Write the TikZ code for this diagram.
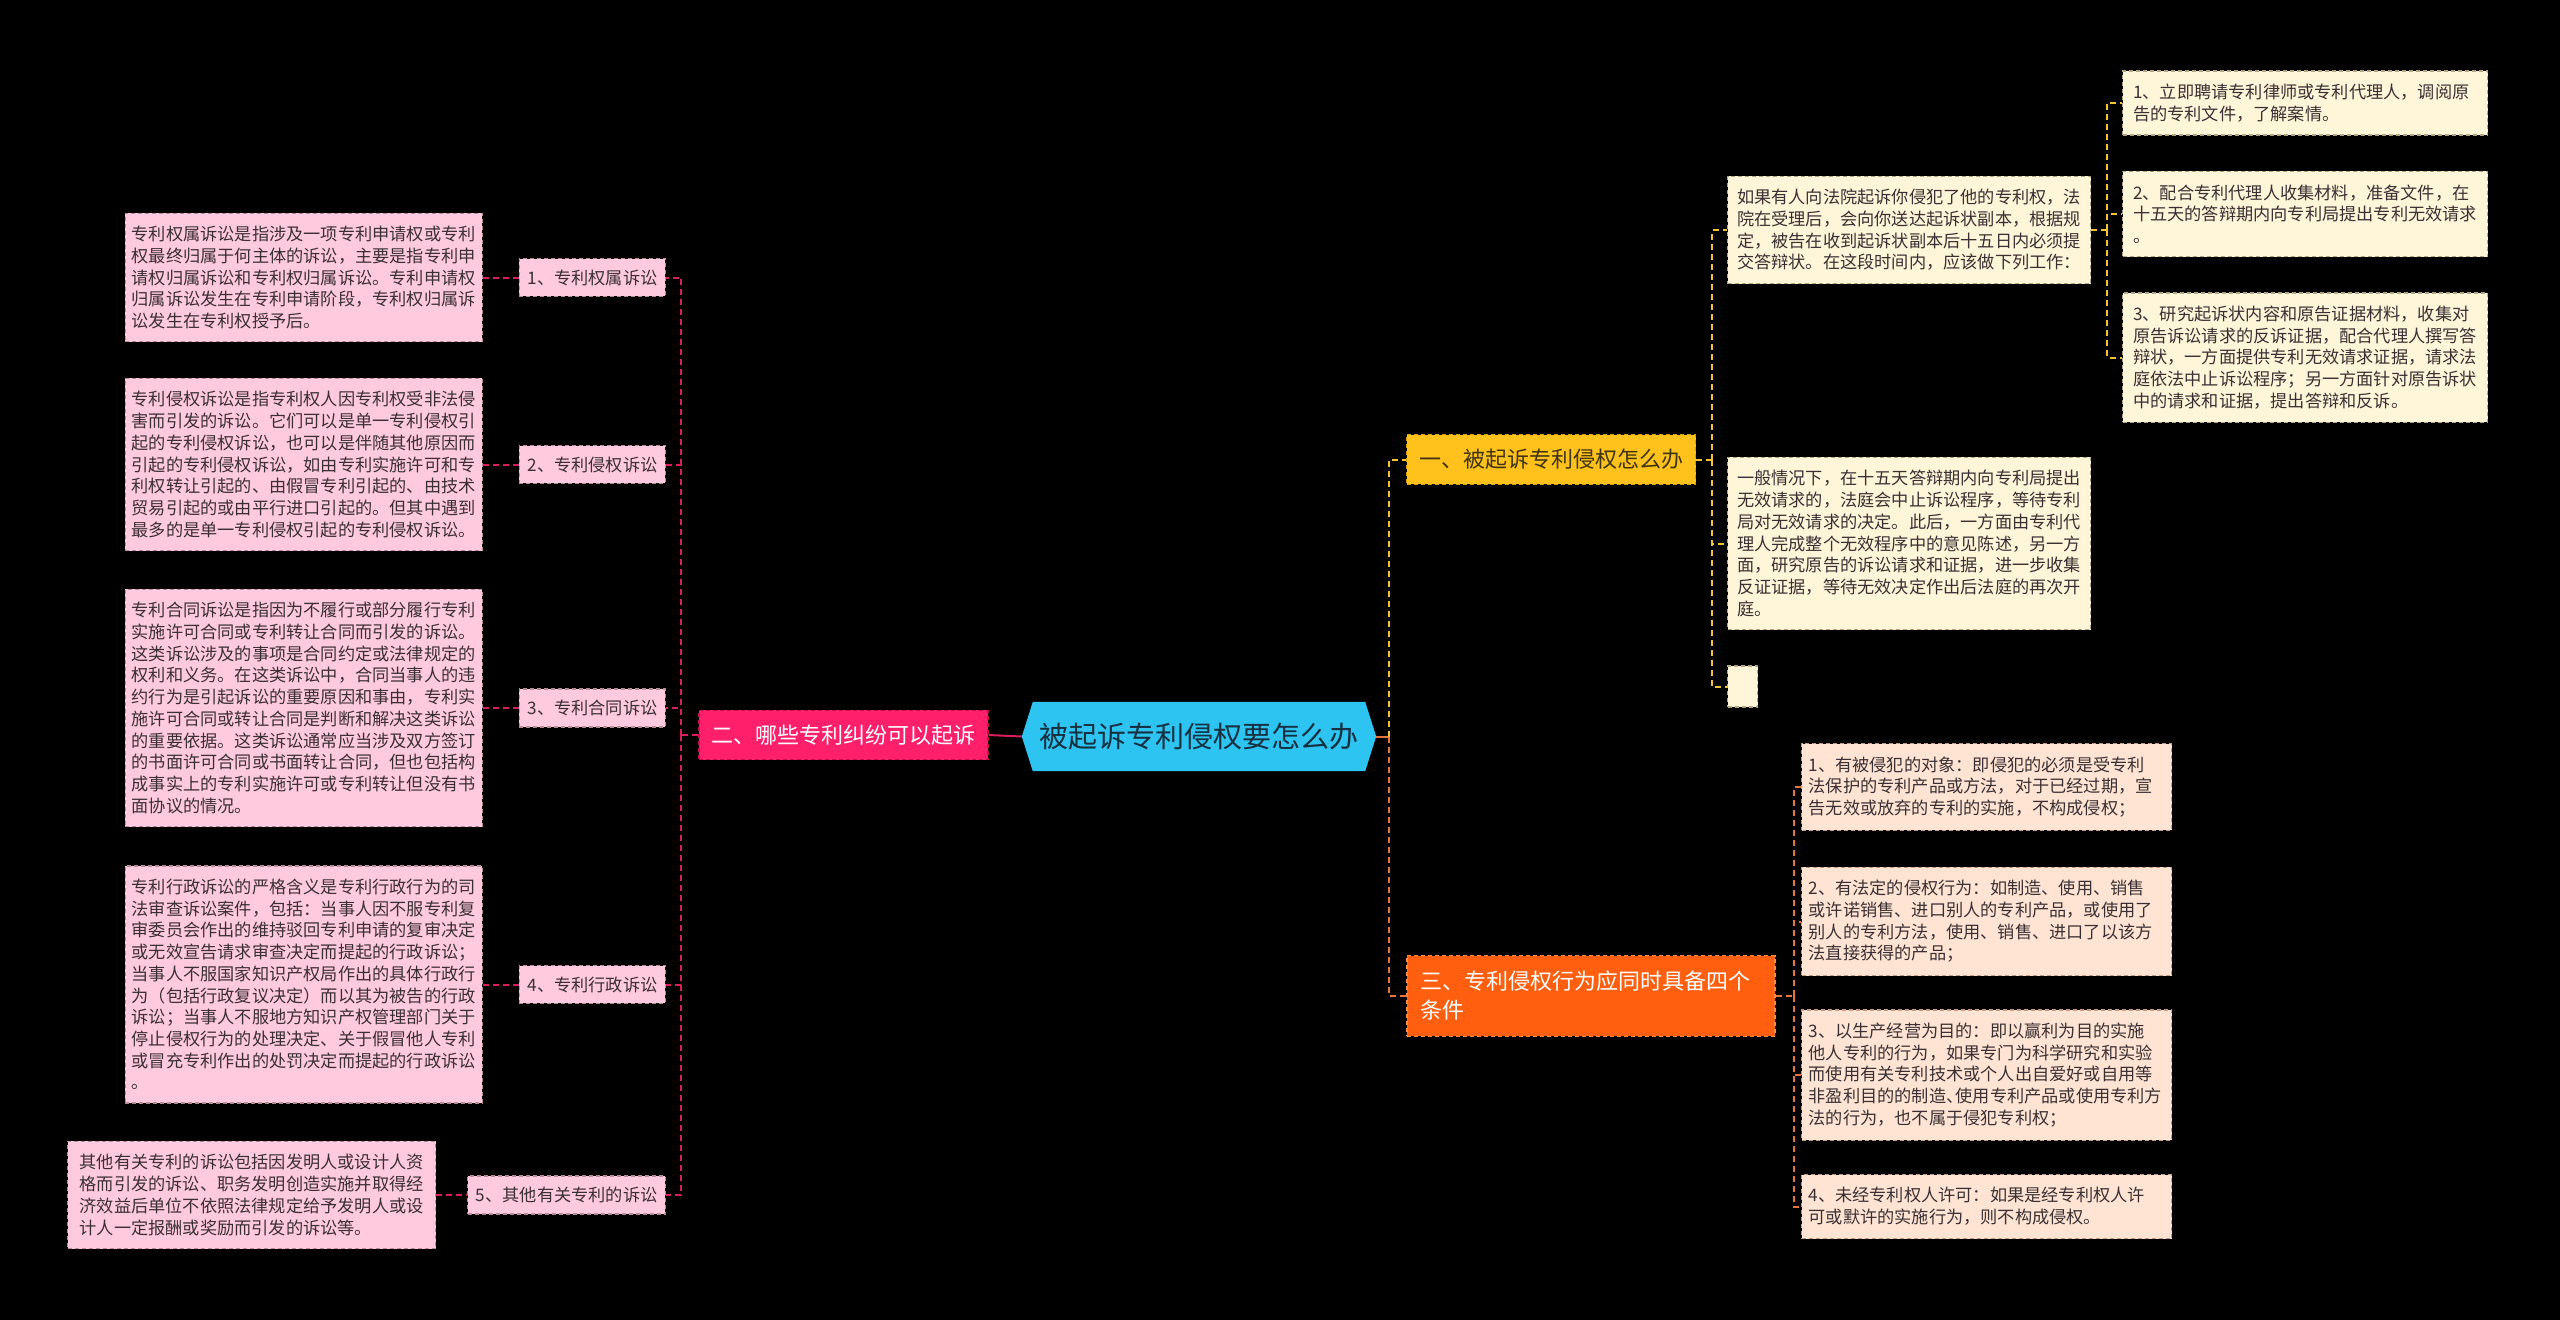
\documentclass[tikz,border=0pt]{standalone}
\usepackage{fontspec}
\setmainfont{Noto Sans CJK SC}
\usetikzlibrary{positioning, backgrounds, calc}

\definecolor{rootfill}{HTML}{2EC4F2}
\definecolor{rootink}{HTML}{16303F}
\definecolor{boxink}{HTML}{3A3033}
\definecolor{pinkfill}{HTML}{FFC9DE}
\definecolor{pinkdraw}{HTML}{B98A9C}
\definecolor{pinkline}{HTML}{D81E5B}
\definecolor{leftfill}{HTML}{FF1F6B}
\definecolor{leftdraw}{HTML}{C40F4F}
\definecolor{ambfill}{HTML}{FFC21C}
\definecolor{ambdraw}{HTML}{D89E00}
\definecolor{ambink}{HTML}{3F3410}
\definecolor{creamfill}{HTML}{FFF5D8}
\definecolor{creamdraw}{HTML}{B5A682}
\definecolor{yellowline}{HTML}{F2C230}
\definecolor{orgfill}{HTML}{FF5F0F}
\definecolor{orgdraw}{HTML}{FF8A4A}
\definecolor{peachfill}{HTML}{FFE4D4}
\definecolor{peachdraw}{HTML}{C49A86}
\definecolor{orangeline}{HTML}{E8733C}

\begin{document}
\begin{tikzpicture}[x=1pt, y=-1pt,
    leafbox/.style={draw, dash pattern=on 4pt off 3pt, line width=1.2pt, align=left, text=boxink,
        font=\fontsize{17.2pt}{21.7pt}\selectfont, inner ysep=13pt},
    pdesc/.style={leafbox, draw=pinkdraw, fill=pinkfill, text width=344pt, inner xsep=6.5pt},
    plabel/.style={leafbox, draw=pinkdraw, fill=pinkfill, inner xsep=8pt, inner ysep=11pt},
    cdesc/.style={leafbox, draw=creamdraw, fill=creamfill, text width=344pt, inner xsep=9.5pt},
    odesc/.style={leafbox, draw=peachdraw, fill=peachfill, text width=356pt, inner xsep=7pt},
    mainbranch/.style={draw, dash pattern=on 4pt off 3pt, line width=1.2pt, align=left,
        font=\fontsize{22pt}{29pt}\selectfont, inner xsep=12.5pt, inner ysep=14.5pt},
    lconn/.style={draw=pinkline, line width=2pt, dash pattern=on 6pt off 4pt},
    yconn/.style={draw=yellowline, line width=2pt, dash pattern=on 6pt off 4pt},
    oconn/.style={draw=orangeline, line width=2pt, dash pattern=on 6pt off 4pt}]

    % Background
    \begin{scope}[on background layer]
        \fill[black] (0,0) rectangle (2560,1320);
    \end{scope}
    \useasboundingbox (0,0) rectangle (2560,1320);

    % Centre
    \node[font=\fontsize{29pt}{34pt}\selectfont, text=rootink, minimum width=354pt, minimum height=69pt, inner sep=0pt] (root) at (1199,736.5) {被起诉专利侵权要怎么办};
    \begin{scope}[on background layer]
        \fill[rootfill] (root.west) -- ([xshift=11pt]root.north west) -- ([xshift=-11pt]root.north east) -- (root.east) -- ([xshift=-11pt]root.south east) -- ([xshift=11pt]root.south west) -- cycle;
    \end{scope}

    % Left branch
    \node[mainbranch, fill=leftfill, draw=leftdraw, text=white] (lb) at (843.5,735) {二、哪些专利纠纷可以起诉};

    \node[plabel, anchor=east] (l1) at (666,277.5) {1、专利权属诉讼};
    \node[plabel, anchor=east] (l2) at (666,464.5) {2、专利侵权诉讼};
    \node[plabel, anchor=east] (l3) at (666,708) {3、专利合同诉讼};
    \node[plabel, anchor=east] (l4) at (666,984.5) {4、专利行政诉讼};
    \node[plabel, anchor=east] (l5) at (666,1195) {5、其他有关专利的诉讼};

    \node[pdesc, left=36pt of l1] (d1) {专利权属诉讼是指涉及一项专利申请权或专利\\权最终归属于何主体的诉讼，主要是指专利申\\请权归属诉讼和专利权归属诉讼。专利申请权\\归属诉讼发生在专利申请阶段，专利权归属诉\\讼发生在专利权授予后。};
    \node[pdesc, left=36pt of l2] (d2) {专利侵权诉讼是指专利权人因专利权受非法侵\\害而引发的诉讼。它们可以是单一专利侵权引\\起的专利侵权诉讼，也可以是伴随其他原因而\\引起的专利侵权诉讼，如由专利实施许可和专\\利权转让引起的、由假冒专利引起的、由技术\\贸易引起的或由平行进口引起的。但其中遇到\\最多的是单一专利侵权引起的专利侵权诉讼。};
    \node[pdesc, left=36pt of l3] (d3) {专利合同诉讼是指因为不履行或部分履行专利\\实施许可合同或专利转让合同而引发的诉讼。\\这类诉讼涉及的事项是合同约定或法律规定的\\权利和义务。在这类诉讼中，合同当事人的违\\约行为是引起诉讼的重要原因和事由，专利实\\施许可合同或转让合同是判断和解决这类诉讼\\的重要依据。这类诉讼通常应当涉及双方签订\\的书面许可合同或书面转让合同，但也包括构\\成事实上的专利实施许可或专利转让但没有书\\面协议的情况。};
    \node[pdesc, left=36pt of l4] (d4) {专利行政诉讼的严格含义是专利行政行为的司\\法审查诉讼案件，包括：当事人因不服专利复\\审委员会作出的维持驳回专利申请的复审决定\\或无效宣告请求审查决定而提起的行政诉讼；\\当事人不服国家知识产权局作出的具体行政行\\为（包括行政复议决定）而以其为被告的行政\\诉讼；当事人不服地方知识产权管理部门关于\\停止侵权行为的处理决定、关于假冒他人专利\\或冒充专利作出的处罚决定而提起的行政诉讼\\。};
    \node[pdesc, inner xsep=12pt, left=31pt of l5] (d5) {其他有关专利的诉讼包括因发明人或设计人资\\格而引发的诉讼、职务发明创造实施并取得经\\济效益后单位不依照法律规定给予发明人或设\\计人一定报酬或奖励而引发的诉讼等。};

    % Right branches
    \node[mainbranch, fill=ambfill, draw=ambdraw, text=ambink] (b1) at (1551,459.5) {一、被起诉专利侵权怎么办};
    \node[mainbranch, fill=orgfill, draw=orgdraw, text=white, text width=342pt, inner xsep=13pt, inner ysep=15.5pt] (b3) at (1591,996) {三、专利侵权行为应同时具备四个\\条件};

    \node[cdesc, anchor=west] (dA) at (1727,230) {如果有人向法院起诉你侵犯了他的专利权，法\\院在受理后，会向你送达起诉状副本，根据规\\定，被告在收到起诉状副本后十五日内必须提\\交答辩状。在这段时间内，应该做下列工作：};
    \node[cdesc, anchor=west] (dB) at (1727,543.5) {一般情况下，在十五天答辩期内向专利局提出\\无效请求的，法庭会中止诉讼程序，等待专利\\局对无效请求的决定。此后，一方面由专利代\\理人完成整个无效程序中的意见陈述，另一方\\面，研究原告的诉讼请求和证据，进一步收集\\反证证据，等待无效决定作出后法庭的再次开\\庭。};
    \node[leafbox, draw=creamdraw, fill=creamfill, minimum width=30pt, minimum height=41pt, inner sep=0pt, anchor=west] (dC) at (1727,686.5) {};

    \node[cdesc, inner xsep=10.5pt, anchor=west] (r1) at (2122,103) {1、立即聘请专利律师或专利代理人，调阅原\\告的专利文件，了解案情。};
    \node[cdesc, inner xsep=10.5pt, anchor=west] (r2) at (2122,214) {2、配合专利代理人收集材料，准备文件，在\\十五天的答辩期内向专利局提出专利无效请求\\。};
    \node[cdesc, inner xsep=10.5pt, anchor=west] (r3) at (2122,357.5) {3、研究起诉状内容和原告证据材料，收集对\\原告诉讼请求的反诉证据，配合代理人撰写答\\辩状，一方面提供专利无效请求证据，请求法\\庭依法中止诉讼程序；另一方面针对原告诉状\\中的请求和证据，提出答辩和反诉。};

    \node[odesc, anchor=west] (c1) at (1801,787) {1、有被侵犯的对象：即侵犯的必须是受专利\\法保护的专利产品或方法，对于已经过期，宣\\告无效或放弃的专利的实施，不构成侵权；};
    \node[odesc, anchor=west] (c2) at (1801,921.5) {2、有法定的侵权行为：如制造、使用、销售\\或许诺销售、进口别人的专利产品，或使用了\\别人的专利方法，使用、销售、进口了以该方\\法直接获得的产品；};
    \node[odesc, anchor=west] (c3) at (1801,1075) {3、以生产经营为目的：即以赢利为目的实施\\他人专利的行为，如果专门为科学研究和实验\\而使用有关专利技术或个人出自爱好或自用等\\非盈利目的的制造、\kern-.45em 使用专利产品或使用专利方\\法的行为，也不属于侵犯专利权；};
    \node[odesc, anchor=west] (c4) at (1801,1206.5) {4、未经专利权人许可：如果是经专利权人许\\可或默许的实施行为，则不构成侵权。};

    % Connecting lines
    \draw[draw=pinkline, line width=2pt] (root.west) -- (lb.east);
    \draw[lconn] (lb.west) -- ++(-17,0) coordinate (lj);
    \foreach \n in {l1,l2,l3,l4,l5}
        \draw[lconn] (lj) |- (\n.east);
    \foreach \n in {1,...,5}
        \draw[lconn] (d\n.east) -- (l\n.west);

    \draw[draw=orangeline, line width=2pt] (root.east) -- ++(13,0) coordinate (rj);
    \draw[yconn] (rj) |- (b1.west);
    \draw[oconn] (rj) |- (b3.west);

    \draw[yconn] (b1.east) -- ++(16,0) coordinate (b1j);
    \foreach \n in {dA,dB,dC}
        \draw[yconn] (b1j) |- (\n.west);
    \draw[yconn] (dA.east) -- ++(16,0) coordinate (dAj);
    \foreach \n in {r1,r2,r3}
        \draw[yconn] (dAj) |- (\n.west);

    \draw[oconn] (b3.east) -- ++(18,0) coordinate (b3j);
    \foreach \n in {c1,c2,c3,c4}
        \draw[oconn] (b3j) |- (\n.west);
\end{tikzpicture}
\end{document}
